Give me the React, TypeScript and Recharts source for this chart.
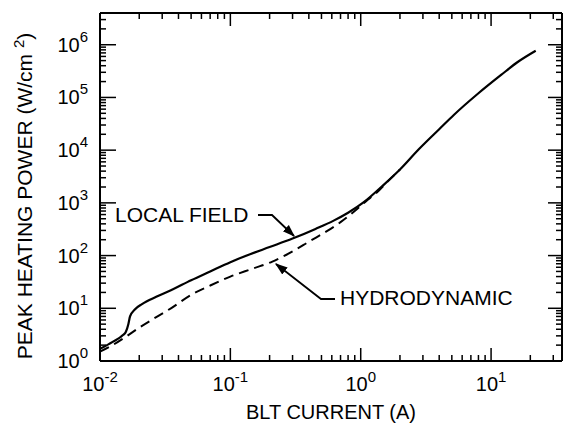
import { LineChart, Line, XAxis, YAxis } from 'recharts'

// BLT current (A) vs peak heating power (W/cm^2)
const localCurrent = [0.01, 0.0125, 0.015, 0.0158, 0.0165, 0.017, 0.0185, 0.021, 0.027, 0.035, 0.05, 0.07, 0.1, 0.14, 0.2, 0.3, 0.45, 0.62, 0.8, 1.05, 1.5, 2, 2.8, 4, 5.2, 8, 12, 16, 22]
const localPower = [1.7, 2.3, 3.1, 3.6, 5, 7, 9.5, 12, 16.5, 22, 34, 50, 75, 105, 145, 210, 320, 460, 650, 1020, 2200, 4300, 10500, 25000, 47000, 120000, 270000, 470000, 770000]

const hydroCurrent = [0.01, 0.0125, 0.0155, 0.02, 0.027, 0.035, 0.05, 0.07, 0.1, 0.15, 0.21, 0.3, 0.41, 0.55, 0.7, 0.9, 1.1, 1.3, 1.6, 2]
const hydroPower = [1.5, 2.0, 2.8, 4.3, 6.8, 10, 18, 27, 40, 57, 77, 120, 190, 290, 430, 700, 1080, 1500, 2500, 4300]

const xTicks = [0.01, 0.02, 0.03, 0.04, 0.05, 0.06, 0.07, 0.08, 0.09, 0.1, 0.2, 0.3, 0.4, 0.5, 0.6, 0.7, 0.8, 0.9, 1, 2, 3, 4, 5, 6, 7, 8, 9, 10, 20, 30]
const yTicks = [1, 2, 3, 4, 5, 6, 7, 8, 9, 10, 20, 30, 40, 50, 60, 70, 80, 90, 100, 200, 300, 400, 500, 600, 700, 800, 900, 1e3, 2e3, 3e3, 4e3, 5e3, 6e3, 7e3, 8e3, 9e3, 1e4, 2e4, 3e4, 4e4, 5e4, 6e4, 7e4, 8e4, 9e4, 1e5, 2e5, 3e5, 4e5, 5e5, 6e5, 7e5, 8e5, 9e5, 1e6, 2e6, 3e6]

const localData = localCurrent.map((i, k) => ({ i, p: localPower[k] }))
const hydroData = hydroCurrent.map((i, k) => ({ i, p: hydroPower[k] }))

const FONT = '"Liberation Sans", Arial, Helvetica, sans-serif'

const isMajor = (v: number) => Math.abs(Math.log10(v) - Math.round(Math.log10(v))) < 1e-6
const expOf = (v: number) => String(Math.round(Math.log10(v)))

const BottomTick = (props: any) => {
  const { x, y, payload } = props
  const major = isMajor(payload.value)
  return (
    <g>
      <line x1={x} y1={y} x2={x} y2={y - (major ? 13 : 6)} stroke="#000" strokeWidth={1.5} />
      {major && (
        <text x={x} y={y + 30} textAnchor="middle" fontSize={20} fontFamily={FONT} fill="#000">
          10<tspan dy={-9} fontSize={15}>{expOf(payload.value)}</tspan>
        </text>
      )}
    </g>
  )
}

const TopTick = (props: any) => {
  const { x, y, payload } = props
  const major = isMajor(payload.value)
  return <line x1={x} y1={y} x2={x} y2={y + (major ? 13 : 6)} stroke="#000" strokeWidth={1.5} />
}

const LeftTick = (props: any) => {
  const { x, y, payload } = props
  const major = isMajor(payload.value)
  return (
    <g>
      <line x1={x} y1={y} x2={x + (major ? 16 : 6)} y2={y} stroke="#000" strokeWidth={1.5} />
      {major && (
        <text x={x - 12} y={y + 7} textAnchor="end" fontSize={20} fontFamily={FONT} fill="#000">
          10<tspan dy={-10} fontSize={15}>{expOf(payload.value)}</tspan>
        </text>
      )}
    </g>
  )
}

const RightTick = (props: any) => {
  const { x, y, payload } = props
  const major = isMajor(payload.value)
  return <line x1={x} y1={y} x2={x - (major ? 14 : 6)} y2={y} stroke="#000" strokeWidth={1.5} />
}

const axisLine = { stroke: '#000', strokeWidth: 2 }

const App = () => {
  return (
    <div style={{ position: 'absolute', left: 0, top: 0, width: 570, height: 425, background: '#fff' }}>
      <LineChart width={570} height={425} margin={{ top: 12, right: 7, bottom: 63, left: 99 }}>
        <XAxis
          xAxisId="b"
          dataKey="i"
          type="number"
          scale="log"
          domain={[0.01, 35]}
          allowDataOverflow
          ticks={xTicks}
          interval={0}
          height={1}
          tickSize={0}
          tickMargin={0}
          tickLine={false}
          axisLine={axisLine}
          tick={BottomTick}
        />
        <XAxis
          xAxisId="t"
          orientation="top"
          dataKey="i"
          type="number"
          scale="log"
          domain={[0.01, 35]}
          allowDataOverflow
          ticks={xTicks}
          interval={0}
          height={1}
          tickSize={0}
          tickMargin={0}
          tickLine={false}
          axisLine={axisLine}
          tick={TopTick}
        />
        <YAxis
          yAxisId="l"
          type="number"
          scale="log"
          domain={[1, 4e6]}
          allowDataOverflow
          ticks={yTicks}
          interval={0}
          width={1}
          tickSize={0}
          tickMargin={0}
          tickLine={false}
          axisLine={axisLine}
          tick={LeftTick}
        />
        <YAxis
          yAxisId="r"
          orientation="right"
          type="number"
          scale="log"
          domain={[1, 4e6]}
          allowDataOverflow
          ticks={yTicks}
          interval={0}
          width={1}
          tickSize={0}
          tickMargin={0}
          tickLine={false}
          axisLine={axisLine}
          tick={RightTick}
        />
        <Line
          xAxisId="b"
          yAxisId="l"
          data={hydroData}
          dataKey="p"
          type="monotone"
          stroke="#000"
          strokeWidth={2}
          strokeDasharray="10 6"
          dot={false}
          isAnimationActive={false}
        />
        <Line
          xAxisId="b"
          yAxisId="l"
          data={localData}
          dataKey="p"
          type="monotone"
          stroke="#000"
          strokeWidth={2.2}
          dot={false}
          isAnimationActive={false}
        />
      </LineChart>

      {/* axis titles and callouts */}
      <svg width={570} height={425} style={{ position: 'absolute', left: 0, top: 0, pointerEvents: 'none' }}>
        <defs>
          <marker id="arrow" viewBox="0 0 10 10" refX="9" refY="5" markerWidth="7" markerHeight="7" orient="auto">
            <path d="M0,1.5 L10,5 L0,8.5 z" fill="#000" />
          </marker>
        </defs>
        <text x={331} y={419} textAnchor="middle" fontSize={20} fontFamily={FONT} fill="#000">
          BLT CURRENT (A)
        </text>
        <text
          transform="translate(32,196) rotate(-90)"
          textAnchor="middle"
          fontSize={21}
          fontFamily={FONT}
          fill="#000"
        >
          PEAK HEATING POWER (W/cm <tspan dy={-8} fontSize={15}>2</tspan><tspan dy={8}>)</tspan>
        </text>

        <text x={115} y={222} fontSize={21} fontFamily={FONT} fill="#000">LOCAL FIELD</text>
        <polyline points="258,215 272,215 294,236" fill="none" stroke="#000" strokeWidth={1.8} markerEnd="url(#arrow)" />

        <text x={340} y={305} fontSize={21} fontFamily={FONT} fill="#000">HYDRODYNAMIC</text>
        <polyline points="335,299 321,299 276,264" fill="none" stroke="#000" strokeWidth={1.8} markerEnd="url(#arrow)" />
      </svg>
    </div>
  )
}

export default App
